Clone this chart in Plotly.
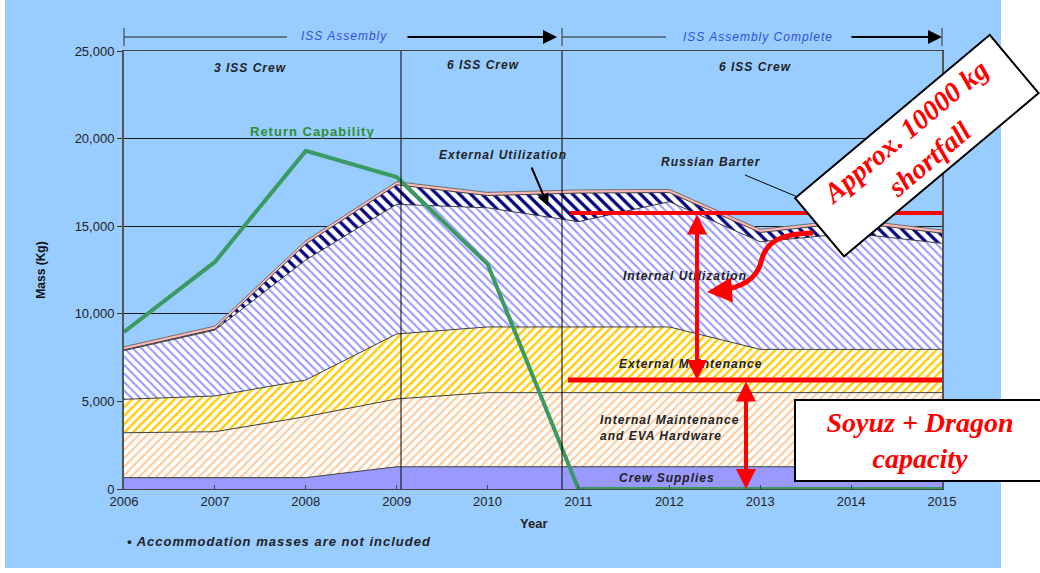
import plotly.graph_objects as go

# ---------------- data ----------------
years = [2006, 2007, 2008, 2009, 2010, 2011, 2012, 2013, 2014, 2015]
crew_supplies = [650, 650, 650, 1270, 1270, 1270, 1270, 1270, 1270, 1270]
internal_maintenance_eva = [2560, 2620, 3480, 3870, 4230, 4230, 4230, 4230, 4230, 4230]
external_maintenance = [1910, 2040, 2090, 3710, 3750, 3750, 3750, 2470, 2470, 2470]
internal_utilization = [2780, 3760, 6850, 7400, 6800, 6010, 7150, 6140, 6630, 6050]
external_utilization = [40, 50, 920, 1110, 700, 1630, 520, 530, 620, 580]
russian_barter = [180, 180, 180, 180, 180, 180, 180, 180, 180, 180]
return_capability = [8960, 12960, 19300, 17800, 12840, 0, 0, 0, 0, 0]

shortfall_level = 15750        # upper red line
soyuz_dragon_capacity = 6220   # lower red line
y_ticks = [0, 5000, 10000, 15000, 20000, 25000]

# ---------------- geometry helpers (pixel -> paper / data) ----------------
L, R, T, B = 124, 942, 51, 489
W, H = R - L, B - T


def px(x):
    return (x - L) / W


def py(y):
    return (B - y) / H


def dx(x):
    return 2006 + (x - L) / W * 9


def dy(y):
    return (B - y) / H * 25000


FONT = "Liberation Sans, Arial, sans-serif"
SERIF = "Liberation Serif, Times New Roman, serif"
EDGE = dict(color="#404040", width=1)

fig = go.Figure()

fig.add_trace(go.Scatter(x=years, y=crew_supplies, stackgroup="one", mode="lines",
                         line=EDGE, fillcolor="#9999FF", name="Crew Supplies"))
fig.add_trace(go.Scatter(x=years, y=internal_maintenance_eva, stackgroup="one", mode="lines",
                         line=EDGE, name="Internal Maintenance and EVA Hardware",
                         fillpattern=dict(shape="/", fgcolor="#FFC899", bgcolor="#FFFFFF",
                                          size=6, solidity=0.35, fillmode="replace")))
fig.add_trace(go.Scatter(x=years, y=external_maintenance, stackgroup="one", mode="lines",
                         line=EDGE, name="External Maintenance",
                         fillpattern=dict(shape="/", fgcolor="#FFCC00", bgcolor="#FFFFFF",
                                          size=6, solidity=0.4, fillmode="replace")))
fig.add_trace(go.Scatter(x=years, y=internal_utilization, stackgroup="one", mode="lines",
                         line=EDGE, name="Internal Utilization",
                         fillpattern=dict(shape="\\", fgcolor="#9999FF", bgcolor="#FFFFFF",
                                          size=6, solidity=0.35, fillmode="replace")))
fig.add_trace(go.Scatter(x=years, y=external_utilization, stackgroup="one", mode="lines",
                         line=EDGE, name="External Utilization",
                         fillpattern=dict(shape="\\", fgcolor="#000080", bgcolor="#FFFFFF",
                                          size=8, solidity=0.4, fillmode="replace")))
fig.add_trace(go.Scatter(x=years, y=russian_barter, stackgroup="one", mode="lines",
                         line=dict(color="#707070", width=1), fillcolor="#FFB8B8",
                         name="Russian Barter"))
fig.add_trace(go.Scatter(x=years, y=return_capability, mode="lines",
                         line=dict(color="#3A9A62", width=4), name="Return Capability"))

shapes = []
# blue background panel
shapes.append(dict(type="rect", xref="paper", yref="paper", x0=px(5), x1=px(1001),
                   y0=py(568), y1=py(0), fillcolor="#99CCFF", line=dict(width=0), layer="below"))
# phase separators
for xv in (dx(401), dx(562)):
    shapes.append(dict(type="line", xref="x", yref="paper", x0=xv, x1=xv, y0=0, y1=1,
                       line=dict(color="#000000", width=1), layer="above"))
# banner ticks & thin lines
for xp_ in (124, 562, 942):
    shapes.append(dict(type="line", xref="paper", yref="paper", x0=px(xp_), x1=px(xp_),
                       y0=py(46), y1=py(28), line=dict(color="#333333", width=1)))
shapes.append(dict(type="line", xref="paper", yref="paper", x0=px(124), x1=px(287),
                   y0=py(37), y1=py(37), line=dict(color="#222222", width=1)))
shapes.append(dict(type="line", xref="paper", yref="paper", x0=px(562), x1=px(666),
                   y0=py(37), y1=py(37), line=dict(color="#222222", width=1)))
# red reference lines
shapes.append(dict(type="line", xref="x", yref="y", x0=dx(570), x1=2015,
                   y0=shortfall_level, y1=shortfall_level, line=dict(color="#FF0000", width=4)))
shapes.append(dict(type="line", xref="x", yref="y", x0=dx(568), x1=2015,
                   y0=soyuz_dragon_capacity, y1=soyuz_dragon_capacity,
                   line=dict(color="#FF0000", width=5)))
# curved red arrow body
path = "M {},{} C {},{} {},{} {},{} C {},{} {},{} {},{}".format(
    dx(813), dy(233), dx(775), dy(234), dx(765), dy(245), dx(761), dy(262),
    dx(756), dy(283), dx(735), dy(289), dx(716), dy(291))
shapes.append(dict(type="path", xref="x", yref="y", path=path,
                   line=dict(color="#FF0000", width=5)))
# Russian barter pointer
shapes.append(dict(type="line", xref="paper", yref="paper", x0=px(745), x1=px(800),
                   y0=py(175), y1=py(198), line=dict(color="#000000", width=1)))

ann = []


def label(x, y, text, size=12, color="#222222", bold=True, italic=True, xanchor="center",
          align="center", family=FONT):
    ann.append(dict(xref="paper", yref="paper", x=px(x), y=py(y), text=text, showarrow=False,
                    xanchor=xanchor, yanchor="middle", align=align,
                    font=dict(family=family, size=size, color=color,
                              weight="bold" if bold else "normal",
                              style="italic" if italic else "normal")))


SP = '<span style="letter-spacing:1px">{}</span>'
label(344, 36, SP.format("ISS Assembly"), size=12, color="#3050D8", bold=False)
label(758, 37, SP.format("ISS Assembly Complete"), size=12, color="#3050D8", bold=False)
label(250, 68, SP.format("3 ISS Crew"))
label(483, 65, SP.format("6 ISS Crew"))
label(755, 67, SP.format("6 ISS Crew"))
label(312, 131, SP.format("Return Capability"), size=13, color="#2F8F2F", italic=False)
label(503, 155, SP.format("External Utilization"))
label(711, 162, SP.format("Russian Barter"))
label(685, 276, SP.format("Internal Utilization"))
label(690, 364, SP.format("External Maintenance"))
label(598, 428, SP.format("Internal Maintenance<br>and EVA Hardware"), xanchor="left", align="left")
label(667, 478, SP.format("Crew Supplies"))
label(533, 523, "Year", size=13, italic=False)
label(125, 541, SP.format("• Accommodation masses are not included"), size=13, xanchor="left")


# arrows
def arrow(x_head, y_head, x_tail, y_tail, color, width, head=2, size=1.0, both=False):
    ann.append(dict(xref="paper", yref="paper", x=px(x_head), y=py(y_head),
                    ax=x_tail - x_head, ay=y_tail - y_head, text="", showarrow=True,
                    arrowcolor=color, arrowwidth=width, arrowhead=head, arrowsize=size,
                    startarrowhead=head, startarrowsize=size,
                    arrowside="end+start" if both else "end"))


arrow(557, 37, 406, 37, "#000000", 2, head=2, size=1.4)
arrow(942, 37, 850, 37, "#000000", 2, head=2, size=1.4)
arrow(548, 206, 531, 166, "#000000", 2, head=2, size=1.2)
# vertical double arrows (data-driven ends)
ann.append(dict(xref="x", yref="y", x=dx(697), y=soyuz_dragon_capacity, axref="x", ayref="y",
                ax=dx(697), ay=shortfall_level, text="", showarrow=True, arrowcolor="#FF0000",
                arrowwidth=4, arrowhead=2, arrowsize=1, startarrowhead=2, startarrowsize=1,
                arrowside="end+start"))
ann.append(dict(xref="x", yref="y", x=dx(746), y=0, axref="x", ayref="y",
                ax=dx(746), ay=soyuz_dragon_capacity, text="", showarrow=True,
                arrowcolor="#FF0000", arrowwidth=4, arrowhead=2, arrowsize=1,
                startarrowhead=2, startarrowsize=1, arrowside="end+start"))
arrow(707, 292, 720, 291, "#FF0000", 5, head=2, size=1)

# callout boxes
ann.append(dict(xref="paper", yref="paper", x=px(916.5), y=py(146),
                text="Approx. 10000 kg<br>shortfall", showarrow=False,
                xanchor="center", yanchor="middle", textangle=-40,
                width=252, height=74, bgcolor="#FFFFFF", bordercolor="#000000",
                borderwidth=2, borderpad=0,
                font=dict(family=SERIF, size=28, color="#FF0000", weight="bold", style="italic")))
ann.append(dict(xref="paper", yref="paper", x=px(920), y=py(440.5),
                text="Soyuz + Dragon<br>capacity", showarrow=False,
                xanchor="center", yanchor="middle",
                width=248, height=79, bgcolor="#FFFFFF", bordercolor="#000000",
                borderwidth=2, borderpad=0,
                font=dict(family=SERIF, size=28, color="#FF0000", weight="bold", style="italic")))

FW, FH = 1040, 573
fig.update_layout(
    width=FW, height=FH,
    margin=dict(l=L, r=FW - R, t=T, b=FH - B),
    paper_bgcolor="#FFFFFF", plot_bgcolor="#99CCFF",
    showlegend=False, hovermode=False,
    shapes=shapes, annotations=ann,
    font=dict(family=FONT, size=13, color="#222222"),
    xaxis=dict(range=[2006, 2015], tickvals=years, ticktext=[str(y) for y in years],
               showgrid=False, zeroline=False, showline=True, linecolor="#444444", linewidth=1,
               mirror=True, ticks="inside", ticklen=4, tickcolor="#444444",
               tickfont=dict(family=FONT, size=13, color="#222222")),
    yaxis=dict(range=[0, 25000], tickvals=y_ticks, tickformat=",d",
               showgrid=True, gridcolor="#1A1A1A", gridwidth=1, zeroline=False,
               showline=True, linecolor="#555555", linewidth=2, mirror=True,
               ticks="outside", ticklen=5, tickcolor="#333333",
               tickfont=dict(family=FONT, size=13, color="#222222"),
               title=dict(text="Mass (Kg)", standoff=26,
                          font=dict(family=FONT, size=12, color="#111111", weight="bold"))),
)

fig.write_html("out.html", config={"displayModeBar": False},
               post_script="document.body.style.margin='0';document.body.style.overflow='hidden';")
